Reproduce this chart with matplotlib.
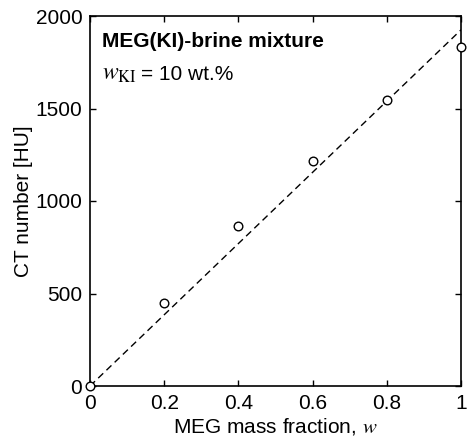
import matplotlib
matplotlib.use("Agg")
import matplotlib.pyplot as plt
from matplotlib.ticker import FuncFormatter

plt.rcParams['font.family'] = ['Liberation Sans', 'DejaVu Sans']
plt.rcParams['mathtext.fontset'] = 'stix'

# data
mass_fraction = [0.0, 0.2, 0.4, 0.6, 0.8, 1.0]
ct_number = [0, 450, 865, 1218, 1545, 1832]
fit_x = [0.0, 1.0]
fit_y = [0, 1925]
x_ticks = [0, 0.2, 0.4, 0.6, 0.8, 1.0]
y_ticks = [0, 500, 1000, 1500, 2000]

fig = plt.figure(figsize=(4.69, 4.45), dpi=100)
ax = fig.add_axes([90/469, 1-386/445, (461-90)/469, (386-16)/445])

ax.plot(fit_x, fit_y, color='black', lw=1.0, dashes=(5, 3.2), zorder=2)
ax.plot(mass_fraction, ct_number, linestyle='none', marker='o', markersize=6.2,
        markerfacecolor='white', markeredgecolor='black', markeredgewidth=1.0,
        clip_on=False, zorder=3)

ax.set_xlim(0, 1)
ax.set_ylim(0, 2000)
ax.set_xticks(x_ticks)
ax.set_yticks(y_ticks)
fmt = FuncFormatter(lambda v, p: '%g' % v)
ax.xaxis.set_major_formatter(fmt)
ax.tick_params(direction='in', length=4, width=1.0, labelsize=15, top=True, right=True)
ax.tick_params(axis='x', pad=6)
ax.tick_params(axis='y', pad=5.5)
for s in ax.spines.values():
    s.set_linewidth(1.2)

ax.set_xlabel(r'MEG mass fraction, $\mathit{w}$', fontsize=15, labelpad=2)
ax.set_ylabel('CT number [HU]', fontsize=15, labelpad=2)

ax.text(0.033, 0.916, 'MEG(KI)-brine mixture', transform=ax.transAxes,
        fontsize=15, fontweight='bold', va='baseline', ha='left')
ax.text(0.033, 0.827, r'$w_{\mathrm{KI}}$', transform=ax.transAxes,
        fontsize=17, va='baseline', ha='left')
ax.text(0.138, 0.827, '= 10 wt.%', transform=ax.transAxes,
        fontsize=15, va='baseline', ha='left')

fig.savefig('out.png', dpi=100)
